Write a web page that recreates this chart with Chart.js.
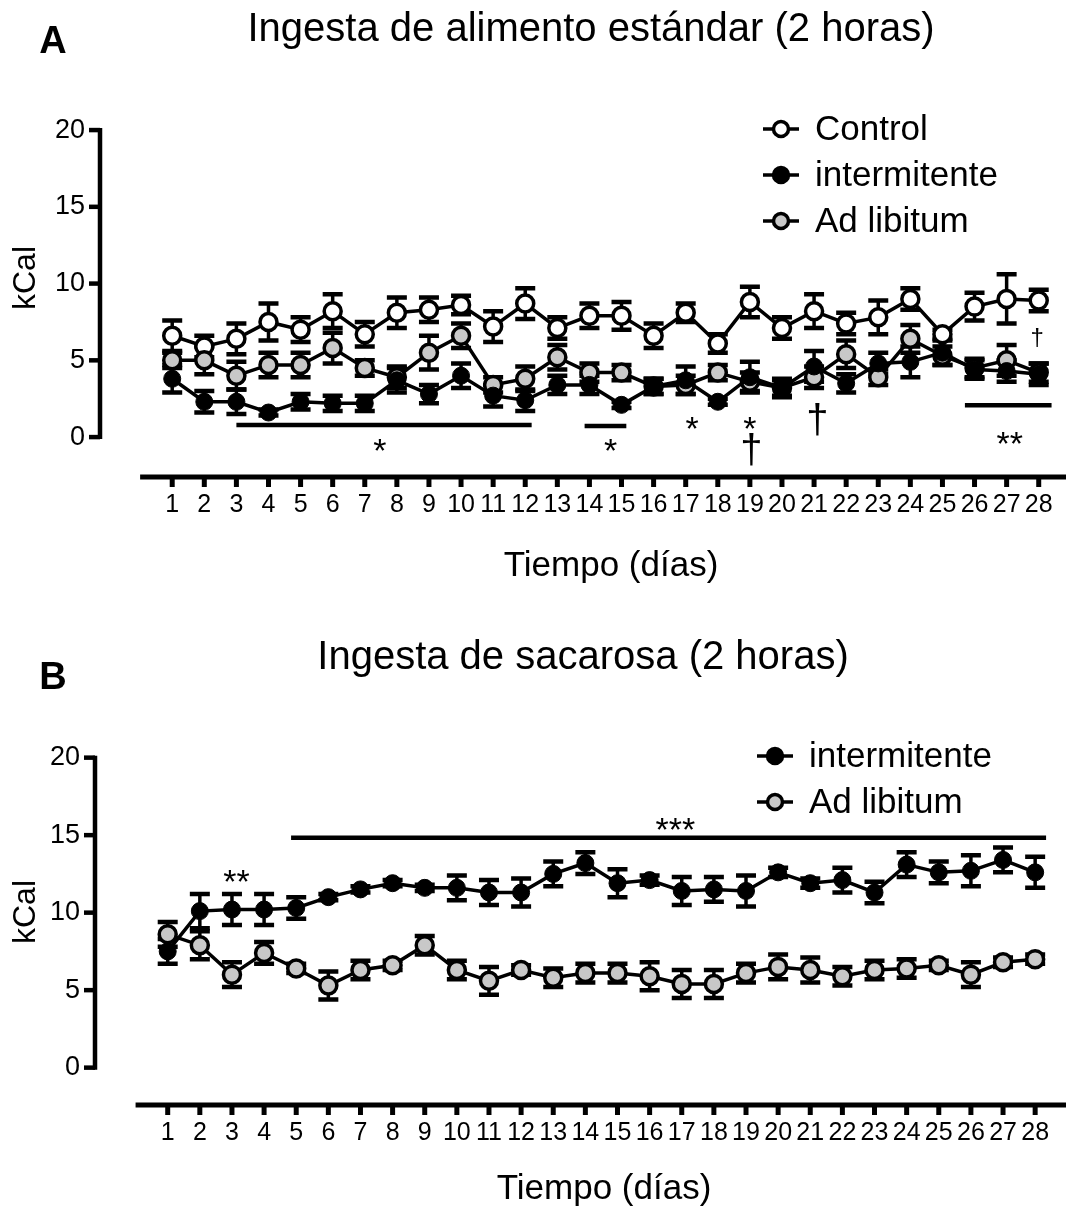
<!DOCTYPE html>
<html>
<head>
<meta charset="utf-8">
<script src="https://cdn.jsdelivr.net/npm/chart.js@4.4.0/dist/chart.umd.min.js"></script>
<style>
  html, body { margin: 0; padding: 0; background: #fff; }
  canvas { display: block; }
</style>
</head>
<body>
<canvas id="chartA" width="1078" height="600"></canvas>
<canvas id="chartB" width="1078" height="615"></canvas>
<script>
// días del experimento (eje horizontal)
var days = [1, 2, 3, 4, 5, 6, 7, 8, 9, 10, 11, 12, 13, 14, 15, 16, 17, 18, 19, 20, 21, 22, 23, 24, 25, 26, 27, 28];
var yTicks = [0, 5, 10, 15, 20];

// Panel A - alimento estándar (media y error)
var controlA = [6.6, 5.9, 6.4, 7.5, 7.0, 8.2, 6.7, 8.1, 8.3, 8.6, 7.2, 8.7, 7.1, 7.9, 7.9, 6.6, 8.1, 6.1, 8.8, 7.1, 8.2, 7.4, 7.8, 9.0, 6.7, 8.5, 9.0, 8.9];
var controlAErr = [1.0, 0.7, 1.0, 1.2, 0.8, 1.1, 0.8, 1.0, 0.8, 0.6, 1.0, 1.0, 0.7, 0.8, 0.9, 0.8, 0.6, 0.6, 1.0, 0.7, 1.1, 0.7, 1.1, 0.7, 0.3, 0.9, 1.6, 0.7];
var intermA = [3.8, 2.3, 2.3, 1.6, 2.3, 2.2, 2.2, 3.7, 2.8, 4.0, 2.7, 2.4, 3.4, 3.4, 2.1, 3.3, 3.7, 2.3, 3.9, 3.2, 4.6, 3.5, 4.8, 4.9, 5.5, 4.4, 4.3, 4.1];
var intermAErr = [0.9, 0.7, 0.8, 0.2, 0.5, 0.5, 0.5, 0.8, 0.6, 0.8, 0.7, 0.7, 0.6, 0.6, 0.2, 0.5, 0.9, 0.2, 1.0, 0.6, 1.0, 0.6, 0.7, 1.0, 0.8, 0.6, 0.7, 0.7];
var adlibA = [5.0, 5.0, 4.0, 4.7, 4.7, 5.8, 4.5, 3.9, 5.5, 6.6, 3.4, 3.8, 5.2, 4.2, 4.2, 3.3, 3.4, 4.2, 3.6, 3.2, 3.9, 5.4, 3.9, 6.4, 5.3, 4.5, 5.0, 4.2];
var adlibAErr = [0.5, 0.9, 0.9, 0.8, 0.8, 1.0, 0.5, 0.7, 1.1, 0.8, 0.5, 0.8, 0.8, 0.6, 0.5, 0.5, 0.6, 0.5, 0.6, 0.5, 0.7, 0.9, 0.5, 0.9, 0.6, 0.6, 1.0, 0.6];

// Panel B - sacarosa
var intermB = [7.5, 10.1, 10.2, 10.2, 10.3, 11.0, 11.5, 11.9, 11.6, 11.6, 11.3, 11.3, 12.5, 13.2, 11.9, 12.1, 11.4, 11.5, 11.4, 12.6, 11.9, 12.1, 11.3, 13.1, 12.6, 12.7, 13.4, 12.6];
var intermBErr = [0.8, 1.1, 1.0, 1.0, 0.7, 0.2, 0.2, 0.2, 0.2, 0.8, 0.8, 0.9, 0.8, 0.7, 0.9, 0.3, 0.9, 0.8, 1.0, 0.3, 0.3, 0.8, 0.7, 0.8, 0.7, 1.0, 0.8, 1.0];
var adlibB = [8.6, 7.9, 6.0, 7.4, 6.4, 5.3, 6.3, 6.6, 7.9, 6.3, 5.6, 6.3, 5.8, 6.1, 6.1, 5.9, 5.4, 5.4, 6.1, 6.5, 6.3, 5.9, 6.3, 6.4, 6.6, 6.0, 6.8, 7.0];
var adlibBErr = [0.8, 0.9, 0.8, 0.7, 0.3, 0.9, 0.6, 0.3, 0.6, 0.6, 0.9, 0.3, 0.6, 0.6, 0.6, 0.9, 0.9, 0.9, 0.6, 0.8, 0.8, 0.6, 0.6, 0.6, 0.3, 0.8, 0.3, 0.3];

var FONT = "'Liberation Sans', Arial, Helvetica, sans-serif";
var GRAY = '#c8c8c8';

function points(values) {
  return days.map(function (d, i) { return { x: d, y: values[i] }; });
}

// estilos de las tres series (como en Prism)
function controlSet(values, err) {
  return { label: 'Control', data: points(values), err: err, order: 2,
    borderColor: '#000', borderWidth: 3.5, pointBackgroundColor: '#fff', pointBorderColor: '#000',
    pointBorderWidth: 3.5, pointRadius: 8.5, pointHoverRadius: 8.5, fill: false, tension: 0 };
}
function intermSet(values, err) {
  return { label: 'intermitente', data: points(values), err: err, order: 0,
    borderColor: '#000', borderWidth: 3.5, pointBackgroundColor: '#000', pointBorderColor: '#000',
    pointBorderWidth: 1, pointRadius: 8.5, pointHoverRadius: 8.5, fill: false, tension: 0 };
}
function adlibSet(values, err) {
  return { label: 'Ad libitum', data: points(values), err: err, order: 1,
    borderColor: '#000', borderWidth: 3.5, pointBackgroundColor: GRAY, pointBorderColor: '#000',
    pointBorderWidth: 3.5, pointRadius: 8.5, pointHoverRadius: 8.5, fill: false, tension: 0 };
}

// ejes, barras de error, leyenda, títulos y marcas de significancia
var prismPlugin = {
  id: 'prism',
  beforeDatasetsDraw: function (chart, args, opts) {
    var ctx = chart.ctx, x = chart.scales.x, y = chart.scales.y, area = chart.chartArea;
    ctx.save();
    ctx.strokeStyle = '#000';
    ctx.lineCap = 'butt';
    // eje Y
    ctx.lineWidth = 4.5;
    ctx.beginPath();
    ctx.moveTo(area.left, y.getPixelForValue(0) + 2);
    ctx.lineTo(area.left, y.getPixelForValue(20) - 2);
    ctx.stroke();
    yTicks.forEach(function (v) {
      var py = y.getPixelForValue(v);
      ctx.beginPath();
      ctx.moveTo(area.left - 11, py);
      ctx.lineTo(area.left, py);
      ctx.stroke();
    });
    // eje X separado
    ctx.lineWidth = 5;
    ctx.beginPath();
    ctx.moveTo(x.getPixelForValue(0), area.bottom);
    ctx.lineTo(area.right, area.bottom);
    ctx.stroke();
    days.forEach(function (d) {
      var px = x.getPixelForValue(d);
      ctx.beginPath();
      ctx.moveTo(px, area.bottom);
      ctx.lineTo(px, area.bottom + 10);
      ctx.stroke();
    });
    // barras de error
    chart.data.datasets.forEach(function (ds) {
      ds.data.forEach(function (p, i) {
        var px = x.getPixelForValue(p.x);
        var top = y.getPixelForValue(p.y + ds.err[i]);
        var bot = y.getPixelForValue(p.y - ds.err[i]);
        ctx.lineWidth = 3.5;
        ctx.beginPath();
        ctx.moveTo(px, top);
        ctx.lineTo(px, bot);
        ctx.stroke();
        ctx.lineWidth = 4.5;
        ctx.beginPath();
        ctx.moveTo(px - 10, top); ctx.lineTo(px + 10, top);
        ctx.moveTo(px - 10, bot); ctx.lineTo(px + 10, bot);
        ctx.stroke();
      });
    });
    ctx.restore();
  },
  afterDraw: function (chart, args, opts) {
    var ctx = chart.ctx, x = chart.scales.x, y = chart.scales.y;
    ctx.save();
    ctx.fillStyle = '#000';
    ctx.strokeStyle = '#000';
    ctx.textBaseline = 'middle';
    // letra del panel y título
    ctx.textAlign = 'center';
    ctx.font = 'bold 38px ' + FONT;
    ctx.fillText(opts.letter, opts.letterPos[0], opts.letterPos[1]);
    ctx.font = '40px ' + FONT;
    ctx.fillText(opts.title, opts.titlePos[0], opts.titlePos[1]);
    // títulos de ejes
    ctx.font = '35px ' + FONT;
    ctx.fillText('Tiempo (días)', opts.xTitlePos[0], opts.xTitlePos[1]);
    ctx.save();
    ctx.translate(opts.yTitlePos[0], opts.yTitlePos[1]);
    ctx.rotate(-Math.PI / 2);
    ctx.font = '32px ' + FONT;
    ctx.fillText('kCal', 0, 0);
    ctx.restore();
    // leyenda
    ctx.textAlign = 'left';
    ctx.font = '35px ' + FONT;
    chart.data.datasets.forEach(function (ds, i) {
      var ly = opts.legend.y + i * opts.legend.dy;
      var lx = opts.legend.x;
      ctx.lineWidth = 3.5;
      ctx.beginPath();
      ctx.moveTo(lx - 18, ly);
      ctx.lineTo(lx + 18, ly);
      ctx.stroke();
      ctx.beginPath();
      ctx.arc(lx, ly, 7.5, 0, Math.PI * 2);
      ctx.fillStyle = ds.pointBackgroundColor;
      ctx.fill();
      ctx.stroke();
      ctx.fillStyle = '#000';
      ctx.fillText(ds.label, lx + 34, ly + 1);
    });
    // significancia
    ctx.textAlign = 'center';
    (opts.lines || []).forEach(function (l) {
      ctx.lineWidth = 4.5;
      ctx.beginPath();
      ctx.moveTo(x.getPixelForValue(l[0]), y.getPixelForValue(l[2]));
      ctx.lineTo(x.getPixelForValue(l[1]), y.getPixelForValue(l[2]));
      ctx.stroke();
    });
    (opts.marks || []).forEach(function (m) {
      ctx.font = m[3] + 'px ' + FONT;
      ctx.fillText(m[0], x.getPixelForValue(m[1]), y.getPixelForValue(m[2]));
    });
    ctx.restore();
  }
};

function makeChart(id, datasets, geo, decor) {
  return new Chart(document.getElementById(id), {
    type: 'line',
    data: { datasets: datasets },
    plugins: [prismPlugin],
    options: {
      responsive: false,
      animation: false,
      layout: { padding: { top: geo.top, right: geo.right, left: 0, bottom: 0 } },
      plugins: { legend: { display: false }, tooltip: { enabled: false }, prism: decor },
      scales: {
        x: {
          type: 'linear', min: geo.xmin, max: geo.xmax,
          grid: { display: false, drawTicks: false }, border: { display: false },
          afterBuildTicks: function (s) { s.ticks = days.map(function (d) { return { value: d }; }); },
          afterFit: function (s) { s.height = geo.xh; },
          ticks: { autoSkip: false, maxRotation: 0, padding: 13, color: '#000', font: { family: FONT, size: 25 } }
        },
        y: {
          min: geo.ymin, max: geo.ymax,
          grid: { display: false, drawTicks: false }, border: { display: false },
          afterBuildTicks: function (s) { s.ticks = yTicks.map(function (v) { return { value: v }; }); },
          afterFit: function (s) { s.width = geo.left; },
          ticks: { padding: 15, color: '#000', font: { family: FONT, size: 27 } }
        }
      }
    }
  });
}

makeChart('chartA',
  [controlSet(controlA, controlAErr), intermSet(intermA, intermAErr), adlibSet(adlibA, adlibAErr)],
  { top: 125, right: 1.4, left: 100, xh: 123, xmin: -1.25, xmax: 28.85, ymin: -2.6, ymax: 20.33 },
  {
    letter: 'A', letterPos: [53, 43], title: 'Ingesta de alimento estándar (2 horas)', titlePos: [591, 30],
    xTitlePos: [611, 566], yTitlePos: [26, 278],
    legend: { x: 781, y: 129, dy: 46 },
    lines: [[3, 12.2, 0.78], [13.85, 15.15, 0.72], [25.7, 28.4, 2.08]],
    marks: [['*', 7.47, -1.0, 34], ['*', 14.66, -1.0, 34], ['*', 17.2, 0.4, 34], ['*', 19.0, 0.4, 34],
            ['†', 19.05, -1.0, 40], ['†', 21.1, 1.0, 40], ['†', 27.95, 6.4, 24], ['**', 27.1, -0.55, 34]]
  });

makeChart('chartB',
  [intermSet(intermB, intermBErr), adlibSet(adlibB, adlibBErr)],
  { top: 153, right: 8, left: 95, xh: 110, xmin: -1.263, xmax: 28.96, ymin: -2.41, ymax: 20.3 },
  {
    letter: 'B', letterPos: [53, 79], title: 'Ingesta de sacarosa (2 horas)', titlePos: [583, 58],
    xTitlePos: [604, 589], yTitlePos: [26, 312],
    legend: { x: 775, y: 156, dy: 46 },
    lines: [[4.84, 28.34, 14.84]],
    marks: [['**', 3.14, 11.9, 34], ['***', 16.8, 15.2, 34]]
  });
</script>
</body>
</html>
